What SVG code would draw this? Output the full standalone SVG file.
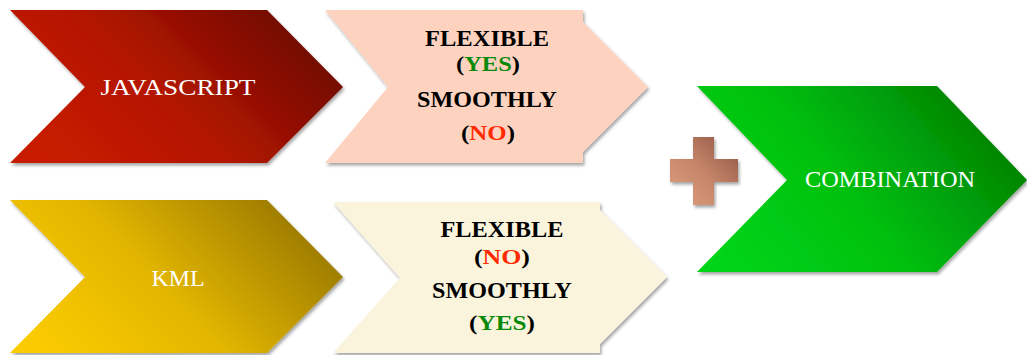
<svg xmlns="http://www.w3.org/2000/svg" width="1027" height="355" viewBox="0 0 1027 355">
  <defs>
    <filter id="shadow" x="-10%" y="-10%" width="120%" height="125%">
      <feDropShadow dx="1.5" dy="2.5" stdDeviation="1.5" flood-color="#000" flood-opacity="0.35"/>
    </filter>
    <linearGradient id="gRed" x1="0" y1="0.75" x2="1" y2="0.3">
      <stop offset="0" stop-color="#c81c00"/>
      <stop offset="0.45" stop-color="#b41600"/>
      <stop offset="1" stop-color="#6a0800"/>
    </linearGradient>
    <linearGradient id="gYellow" x1="0" y1="0.75" x2="1" y2="0.3">
      <stop offset="0" stop-color="#facb00"/>
      <stop offset="0.45" stop-color="#e2b600"/>
      <stop offset="1" stop-color="#967600"/>
    </linearGradient>
    <linearGradient id="gGreen" x1="0" y1="0.75" x2="1" y2="0.3">
      <stop offset="0" stop-color="#00d414"/>
      <stop offset="0.45" stop-color="#00c010"/>
      <stop offset="1" stop-color="#007c00"/>
    </linearGradient>
    <linearGradient id="gPlus" x1="0" y1="1" x2="1" y2="0">
      <stop offset="0" stop-color="#e0a080"/>
      <stop offset="0.5" stop-color="#c48468"/>
      <stop offset="1" stop-color="#8a5040"/>
    </linearGradient>
    <style>
      .lbl { font-family: "Liberation Serif", "Times New Roman", serif; font-size: 24px; fill: #ffffff; text-anchor: middle; }
      .bt { font-family: "Liberation Serif", "Times New Roman", serif; font-size: 24px; font-weight: bold; fill: #000000; text-anchor: middle; }
      .pt { font-family: "Liberation Serif", "Times New Roman", serif; font-size: 22px; font-weight: bold; fill: #000000; text-anchor: middle; }
      .yes { fill: #0a8a0a; }
      .no { fill: #ff2a00; }
    </style>
  </defs>
  <rect width="1027" height="355" fill="#ffffff"/>

  <g id="node-javascript">
    <polygon points="10,10 267,10 343,87 267,163 10,163 85,87" fill="url(#gRed)" filter="url(#shadow)"/>
    <text class="lbl" x="178" y="95" textLength="155" lengthAdjust="spacingAndGlyphs">JAVASCRIPT</text>
  </g>

  <g id="node-flex-js">
    <polygon points="325,10 583,10 583,22 648,87 583,152 583,163 325,163 388,87" fill="#fdd3bf" filter="url(#shadow)"/>
    <text class="bt" x="487" y="46" textLength="124" lengthAdjust="spacingAndGlyphs">FLEXIBLE</text>
    <text class="pt" x="488" y="71" textLength="64" lengthAdjust="spacingAndGlyphs">(<tspan class="yes">YES</tspan>)</text>
    <text class="bt" x="487" y="107" textLength="140" lengthAdjust="spacingAndGlyphs">SMOOTHLY</text>
    <text class="pt" x="488" y="140" textLength="54" lengthAdjust="spacingAndGlyphs">(<tspan class="no">NO</tspan>)</text>
  </g>

  <g id="node-kml">
    <polygon points="10,200 267,200 343,277 267,353 10,353 85,277" fill="url(#gYellow)" filter="url(#shadow)"/>
    <text class="lbl" x="178" y="286" textLength="53" lengthAdjust="spacingAndGlyphs">KML</text>
  </g>

  <g id="node-flex-kml">
    <polygon points="333,202 600,202 600,210 667,277 600,344 600,353 333,353 400,278" fill="#faf4dc" filter="url(#shadow)"/>
    <text class="bt" x="502" y="237" textLength="123" lengthAdjust="spacingAndGlyphs">FLEXIBLE</text>
    <text class="pt" x="502" y="264" textLength="56" lengthAdjust="spacingAndGlyphs">(<tspan class="no">NO</tspan>)</text>
    <text class="bt" x="502" y="298" textLength="140" lengthAdjust="spacingAndGlyphs">SMOOTHLY</text>
    <text class="pt" x="502" y="330" textLength="66" lengthAdjust="spacingAndGlyphs">(<tspan class="yes">YES</tspan>)</text>
  </g>

  <g id="node-plus">
    <path d="M693,137 H714 V159 H738 V182 H714 V205 H693 V182 H670 V159 H693 Z" fill="url(#gPlus)" filter="url(#shadow)"/>
  </g>

  <g id="node-combination">
    <polygon points="697,86 937,86 1027,180 937,272 697,272 787,180" fill="url(#gGreen)" filter="url(#shadow)"/>
    <text class="lbl" x="890" y="187" textLength="170" lengthAdjust="spacingAndGlyphs">COMBINATION</text>
  </g>

  <g id="connectors"/>
</svg>
